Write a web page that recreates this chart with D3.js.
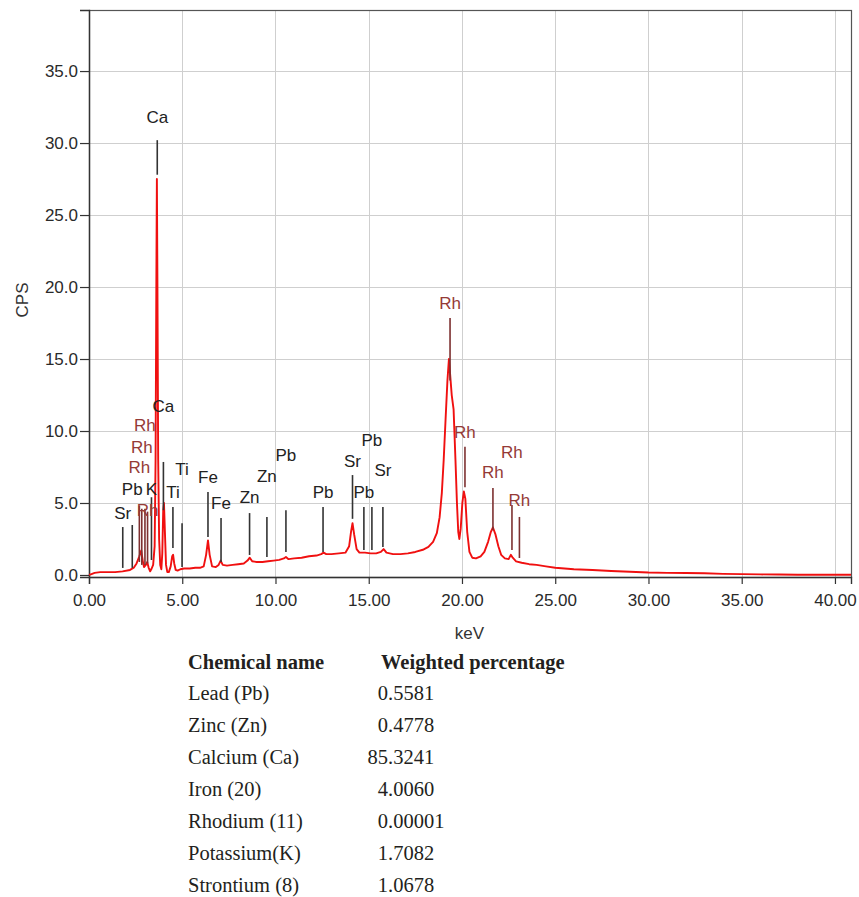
<!DOCTYPE html>
<html>
<head>
<meta charset="utf-8">
<script src="https://cdn.jsdelivr.net/npm/d3@7"></script>
<style>
  body { margin: 0; background: #fff; }
  .chart text { font-family: "Liberation Sans", Arial, sans-serif; }
  .tbl text { font-family: "Liberation Serif", "Times New Roman", serif; }
</style>
</head>
<body>
<div class="chart"></div>
<script>
// spectrum: [keV, CPS]
const spectrum = [
  [0.0, 0.0], [0.1, 0.05], [0.3, 0.15], [0.6, 0.2], [1.0, 0.2], [1.4, 0.2], [1.8, 0.25],
  [2.2, 0.35], [2.4, 0.5], [2.55, 0.8], [2.7, 1.3], [2.8, 1.7], [2.88, 1.0], [2.95, 0.55],
  [3.05, 0.7], [3.12, 0.9], [3.2, 0.5], [3.28, 0.25], [3.36, 0.45], [3.44, 0.7], [3.52, 2.0],
  [3.57, 8.0], [3.61, 20.0], [3.64, 27.5], [3.67, 20.0], [3.71, 8.0], [3.76, 2.5], [3.82, 0.7],
  [3.88, 0.4], [3.93, 1.5], [3.98, 4.5], [4.02, 5.0], [4.07, 3.0], [4.13, 0.7], [4.2, 0.2],
  [4.28, 0.2], [4.38, 0.6], [4.46, 1.3], [4.51, 1.4], [4.57, 0.8], [4.65, 0.35], [4.75, 0.3],
  [4.9, 0.4], [5.1, 0.45], [5.4, 0.45], [5.7, 0.5], [5.95, 0.5], [6.15, 0.6], [6.28, 1.4],
  [6.38, 2.4], [6.47, 1.4], [6.6, 0.6], [6.8, 0.55], [6.95, 0.7], [7.06, 1.0], [7.17, 0.7],
  [7.4, 0.65], [7.7, 0.7], [8.0, 0.75], [8.3, 0.8], [8.5, 1.0], [8.62, 1.2], [8.75, 0.95],
  [9.0, 0.9], [9.3, 0.9], [9.6, 0.95], [9.9, 1.0], [10.2, 1.05], [10.45, 1.15], [10.56, 1.25],
  [10.7, 1.1], [11.0, 1.15], [11.4, 1.2], [11.8, 1.3], [12.2, 1.35], [12.45, 1.45], [12.58, 1.55],
  [12.72, 1.45], [13.0, 1.45], [13.4, 1.5], [13.75, 1.55], [13.95, 2.0], [14.05, 3.0], [14.13, 3.6],
  [14.22, 2.8], [14.35, 1.8], [14.5, 1.55], [14.8, 1.55], [15.1, 1.5], [15.4, 1.5], [15.65, 1.6],
  [15.8, 1.8], [15.95, 1.55], [16.3, 1.45], [16.7, 1.45], [17.1, 1.5], [17.5, 1.6], [17.9, 1.75],
  [18.2, 1.95], [18.45, 2.3], [18.65, 2.9], [18.8, 4.0], [18.92, 5.7], [19.02, 8.0], [19.12, 10.8],
  [19.22, 13.5], [19.3, 15.0], [19.36, 14.0], [19.45, 12.5], [19.55, 11.5], [19.65, 8.0], [19.73, 5.0],
  [19.8, 3.0], [19.86, 2.5], [19.93, 3.2], [20.02, 5.0], [20.1, 5.8], [20.18, 5.3], [20.28, 3.0],
  [20.4, 1.6], [20.55, 1.2], [20.75, 1.15], [21.0, 1.3], [21.2, 1.6], [21.4, 2.3], [21.55, 3.0],
  [21.66, 3.3], [21.8, 2.8], [21.95, 2.0], [22.1, 1.4], [22.3, 1.15], [22.5, 1.1], [22.62, 1.4],
  [22.72, 1.2], [22.9, 0.95], [23.2, 0.85], [23.6, 0.75], [24.0, 0.7], [24.5, 0.6], [25.0, 0.5],
  [26.0, 0.4], [27.0, 0.35], [28.0, 0.28], [29.0, 0.22], [30.0, 0.17], [31.0, 0.15], [32.0, 0.14],
  [33.0, 0.12], [34.0, 0.08], [35.0, 0.06], [36.0, 0.04], [37.0, 0.03], [38.0, 0.02], [39.0, 0.02],
  [40.0, 0.02], [40.86, 0.02]
];

// element markers (keV, label, line from/to in CPS, label height in CPS)
const peakKeV    = [1.81, 2.32, 2.70, 2.83, 3.00, 3.14, 3.35, 3.66, 3.99, 4.50, 4.99, 6.38, 7.08, 8.61, 9.54, 10.56, 12.55, 14.13, 14.74, 15.17, 15.76, 19.36, 20.16, 21.66, 22.68, 23.08];
const peakLabel  = ["Sr", "Pb", "Rh", "Rh", "Rh", "Rh", "K", "Ca", "Ca", "Ti", "Ti", "Fe", "Fe", "Zn", "Zn", "Pb", "Pb", "Sr", "Pb", "Pb", "Sr", "Rh", "Rh", "Rh", "Rh", "Rh"];
const peakTop    = [3.33, 3.47, 4.8, 4.6, 4.6, 4.4, 5.4, 30.2, 7.85, 4.72, 3.6, 5.76, 3.96, 4.3, 4.03, 4.5, 4.72, 6.94, 4.72, 4.72, 4.72, 17.85, 8.9, 6.04, 4.86, 4.03];
const peakBottom = [0.49, 0.49, 0.9, 0.7, 0.7, 0.8, 1.04, 27.8, 4.5, 1.875, 0.55, 2.64, 0.9, 1.39, 1.25, 1.6, 1.6, 3.9, 1.74, 1.74, 1.94, 13.5, 6.1, 3.1, 1.74, 1.18];
const peakLabelAt = [4.3, 5.97, 7.5, 8.9, 10.4, 4.5, 5.97, 31.8, 11.7, 5.76, 7.36, 6.8, 5.0, 5.4, 6.9, 8.33, 5.76, 7.9, 5.76, 9.4, 7.3, 18.9, 9.9, 7.15, 8.54, 5.2];

const xTickValues = [0, 5, 10, 15, 20, 25, 30, 35, 40];
const yTickValues = [0, 5, 10, 15, 20, 25, 30, 35];

const chemicalNames = ["Lead (Pb)", "Zinc (Zn)", "Calcium (Ca)", "Iron (20)", "Rhodium (11)", "Potassium(K)", "Strontium (8)"];
const weightedPct = ["0.5581", "0.4778", "85.3241", "4.0060", "0.00001", "1.7082", "1.0678"];

const w = 859, h = 897;
const svg = d3.select(".chart").append("svg")
  .attr("width", w)
  .attr("height", h);

const x = d3.scaleLinear().domain([0, 40.86]).range([89, 851]);
const y = d3.scaleLinear().domain([-0.14, 39.24]).range([577, 10]);

// grid
const grid = svg.append("g").attr("stroke", "#cfcfcf").attr("stroke-width", 1);
grid.selectAll(".gx").data(xTickValues.slice(1)).join("line")
  .attr("x1", d => Math.round(x(d)) + 0.5).attr("x2", d => Math.round(x(d)) + 0.5)
  .attr("y1", y.range()[1]).attr("y2", y.range()[0]);
grid.selectAll(".gy").data(yTickValues.slice(1)).join("line")
  .attr("y1", d => Math.round(y(d)) + 0.5).attr("y2", d => Math.round(y(d)) + 0.5)
  .attr("x1", x.range()[0]).attr("x2", x.range()[1]);

// frame
svg.append("rect")
  .attr("x", x.range()[0] + 0.5).attr("y", y.range()[1] + 0.5)
  .attr("width", x.range()[1] - x.range()[0]).attr("height", y.range()[0] - y.range()[1])
  .attr("fill", "none").attr("stroke", "#555").attr("stroke-width", 1.2);

// axes
const yAxis = svg.append("g")
  .attr("transform", `translate(${x.range()[0]},0)`)
  .call(d3.axisLeft(y).tickValues(yTickValues).tickFormat(d3.format(".1f")).tickSize(9).tickPadding(2));
const xAxis = svg.append("g")
  .attr("transform", `translate(0,${y.range()[0]})`)
  .call(d3.axisBottom(x).tickValues(xTickValues).tickFormat(d3.format(".2f")).tickSize(7).tickPadding(10));
[xAxis, yAxis].forEach(a => {
  a.select(".domain").attr("stroke", "#333").attr("stroke-width", 1.4);
  a.selectAll(".tick line").attr("stroke", "#333").attr("stroke-width", 1.2);
  a.selectAll(".tick text").attr("fill", "#2a2a2a").style("font-size", "17px")
    .style("font-family", '"Liberation Sans", Arial, sans-serif');
});

// spectrum
const line = d3.line().x(d => x(d[0])).y(d => y(d[1]));
svg.append("path")
  .datum(spectrum)
  .attr("d", line)
  .attr("fill", "none")
  .attr("stroke", "#f01010")
  .attr("stroke-width", 1.9)
  .attr("stroke-linejoin", "round");

// markers
const markers = peakKeV.map((k, i) => ({
  keV: k, label: peakLabel[i], top: peakTop[i], bottom: peakBottom[i], at: peakLabelAt[i]
}));
const mk = svg.append("g");
mk.selectAll("line").data(markers).join("line")
  .attr("x1", d => x(d.keV)).attr("x2", d => x(d.keV))
  .attr("y1", d => y(d.top)).attr("y2", d => y(d.bottom))
  .attr("stroke", d => d.label === "Rh" ? "#7d3030" : "#333")
  .attr("stroke-width", 1.6);
mk.selectAll("text").data(markers).join("text")
  .attr("x", d => x(d.keV)).attr("y", d => y(d.at))
  .attr("dy", "0.35em")
  .attr("text-anchor", "middle")
  .attr("fill", d => d.label === "Rh" ? "#953a36" : "#222")
  .style("font-size", "17px")
  .text(d => d.label);

// axis titles
svg.append("text")
  .attr("x", x(20.4)).attr("y", 639)
  .attr("text-anchor", "middle").attr("fill", "#333")
  .style("font-size", "17px").text("keV");
svg.append("text")
  .attr("transform", "translate(22,300) rotate(-90)")
  .attr("dy", "0.35em")
  .attr("text-anchor", "middle").attr("fill", "#333")
  .style("font-size", "17px").text("CPS");

// table under the chart
const tbl = svg.append("g").attr("class", "tbl").attr("fill", "#231f20").style("font-size", "20.5px");
tbl.append("text").attr("x", 188).attr("y", 669).style("font-weight", "bold").text("Chemical name");
tbl.append("text").attr("x", 381).attr("y", 669).style("font-weight", "bold").text("Weighted percentage");
const rowY = i => 700 + 32 * i;
tbl.selectAll(".nm").data(chemicalNames).join("text")
  .attr("x", 188).attr("y", (d, i) => rowY(i)).text(d => d);
// numbers aligned on the decimal point
tbl.selectAll(".int").data(weightedPct).join("text")
  .attr("x", 388).attr("y", (d, i) => rowY(i)).attr("text-anchor", "end")
  .text(d => d.split(".")[0]);
tbl.selectAll(".frac").data(weightedPct).join("text")
  .attr("x", 388).attr("y", (d, i) => rowY(i))
  .text(d => "." + d.split(".")[1]);
</script>
</body>
</html>
